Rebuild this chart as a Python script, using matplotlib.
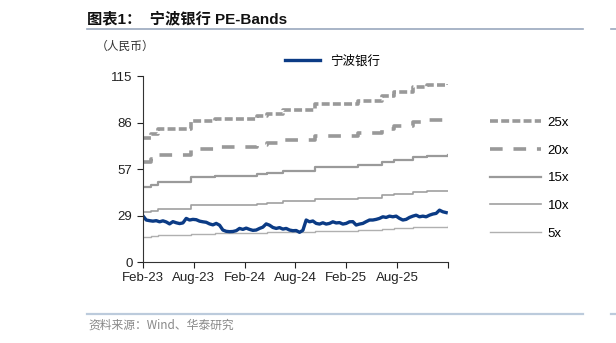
import numpy as np
import matplotlib
matplotlib.use('Agg')
import matplotlib.pyplot as plt
from matplotlib.lines import Line2D

plt.rcParams['font.family'] = ['Liberation Sans', 'Noto Sans CJK SC', 'DejaVu Sans']

# EPS 阶梯（起始月份，距 2023-02），PE 通道 = 倍数 × EPS
eps_month = [0, 1.0, 1.8, 5.7, 8.5, 13.5, 14.6, 16.5, 20.3, 25.4, 28.2, 29.7, 31.9, 33.5, 36]
eps_value = [3.08, 3.18, 3.30, 3.50, 3.55, 3.62, 3.67, 3.76, 3.90, 3.99, 4.12, 4.22, 4.32, 4.38, 4.40]
multiples = [25, 20, 15, 10, 5]

# 宁波银行股价（人民币），约每 0.4 个月一个点
price = [28.6, 26.0, 25.6, 25.3, 25.6, 24.9, 25.5, 24.8, 23.6, 25.0,
         24.3, 23.8, 24.2, 27.0, 26.0, 26.4, 26.2, 25.3, 24.9, 24.6,
         23.6, 23.0, 23.9, 22.8, 19.8, 19.0, 18.8, 18.9, 19.4, 20.8,
         20.2, 21.0, 20.2, 19.6, 19.8, 20.8, 21.6, 23.6, 22.8, 21.4,
         20.8, 21.3, 20.4, 20.8, 19.8, 19.4, 19.5, 18.4, 19.6, 26.0,
         24.9, 25.4, 23.9, 23.5, 24.3, 23.5, 23.9, 24.9, 24.2, 24.4,
         23.5, 23.9, 24.9, 25.0, 22.9, 23.5, 23.9, 25.0, 26.0, 26.0,
         26.4, 27.0, 28.0, 27.6, 28.4, 28.0, 28.4, 27.0, 26.0, 26.4,
         27.6, 28.4, 29.0, 28.0, 28.4, 28.0, 29.0, 29.7, 30.1, 32.1,
         31.1, 30.6]
price_month = np.linspace(0, 35.8, len(price))

xtick_pos = [0, 6, 12, 18, 24, 30, 36]
xtick_labels = ['Feb-23', 'Aug-23', 'Feb-24', 'Aug-24', 'Feb-25', 'Aug-25', '']
ytick_pos = [0, 28.75, 57.5, 86.25, 115]
ytick_labels = ['0', '29', '57', '86', '115']

band_styles = {
    25: dict(color='#999999', lw=2.6, ls=(0, (2.2, 0.9))),
    20: dict(color='#999999', lw=2.6, ls=(0, (3.5, 3.0))),
    15: dict(color='#9a9a9a', lw=1.6, ls='-'),
    10: dict(color='#a0a0a0', lw=1.2, ls='-'),
    5: dict(color='#b0b0b0', lw=1.0, ls='-'),
}

fig = plt.figure(figsize=(6.16, 3.43), dpi=100)
ax = fig.add_axes([0.232, 0.236, 0.495, 0.542])

band_handles = []
for m in multiples:
    st = band_styles[m]
    ax.plot(eps_month, [m * e for e in eps_value], drawstyle='steps-post',
            color=st['color'], lw=st['lw'], ls=st['ls'])
    band_handles.append(Line2D([], [], color=st['color'], lw=st['lw'], ls=st['ls']))

price_line, = ax.plot(price_month, price, color='#0B3B85', lw=2.4)

ax.set_xlim(0, 36)
ax.set_ylim(0, 115)
ax.set_xticks(xtick_pos)
ax.set_xticklabels(xtick_labels)
ax.set_yticks(ytick_pos)
ax.set_yticklabels(ytick_labels)
ax.tick_params(labelsize=9.5, length=4, width=0.8, colors='#222222')
ax.tick_params(axis='x', pad=3)
for s in ['top', 'right']:
    ax.spines[s].set_visible(False)
for s in ['left', 'bottom']:
    ax.spines[s].set_linewidth(0.8)
    ax.spines[s].set_color('#333333')

# 右侧 PE 倍数图例
leg = fig.legend(band_handles, [f'{m}x' for m in multiples], loc='upper left',
                 bbox_to_anchor=(0.795, 0.66), frameon=False, fontsize=9.5,
                 handlelength=3.9, labelspacing=1.17, handletextpad=0.5,
                 borderaxespad=0, borderpad=0)
# 顶部股价图例
fig.legend([price_line], ['宁波银行'], loc='center left', bbox_to_anchor=(0.463, 0.822),
           frameon=False, fontsize=9, handlelength=2.8, handletextpad=0.8,
           borderpad=0, borderaxespad=0, prop={'family': ['Noto Sans CJK SC'], 'size': 9})

# 标题与装饰
fig.text(0.142, 0.945, '图表1：  宁波银行 PE-Bands', fontsize=11, fontweight='bold',
         va='center', ha='left', color='#111111',
         family=['Liberation Sans', 'Noto Sans CJK SC'])
fig.text(0.155, 0.865, '（人民币）', fontsize=8.5, va='center', ha='left', color='#333333',
         family=['Noto Sans CJK SC'])
fig.text(0.143, 0.052, '资料来源：Wind、华泰研究', fontsize=8.5, va='center', ha='left',
         color='#888888', family=['Noto Sans CJK SC', 'Liberation Sans'])
fig.add_artist(Line2D([0.141, 0.946], [0.915, 0.915], color='#9aa8bd', lw=1.2))
fig.add_artist(Line2D([0.992, 1.0], [0.915, 0.915], color='#9aa8bd', lw=1.2))
fig.add_artist(Line2D([0.141, 0.946], [0.085, 0.085], color='#bccbdc', lw=1.6))
fig.add_artist(Line2D([0.992, 1.0], [0.085, 0.085], color='#bccbdc', lw=1.6))

fig.savefig('out.png', dpi=100)
